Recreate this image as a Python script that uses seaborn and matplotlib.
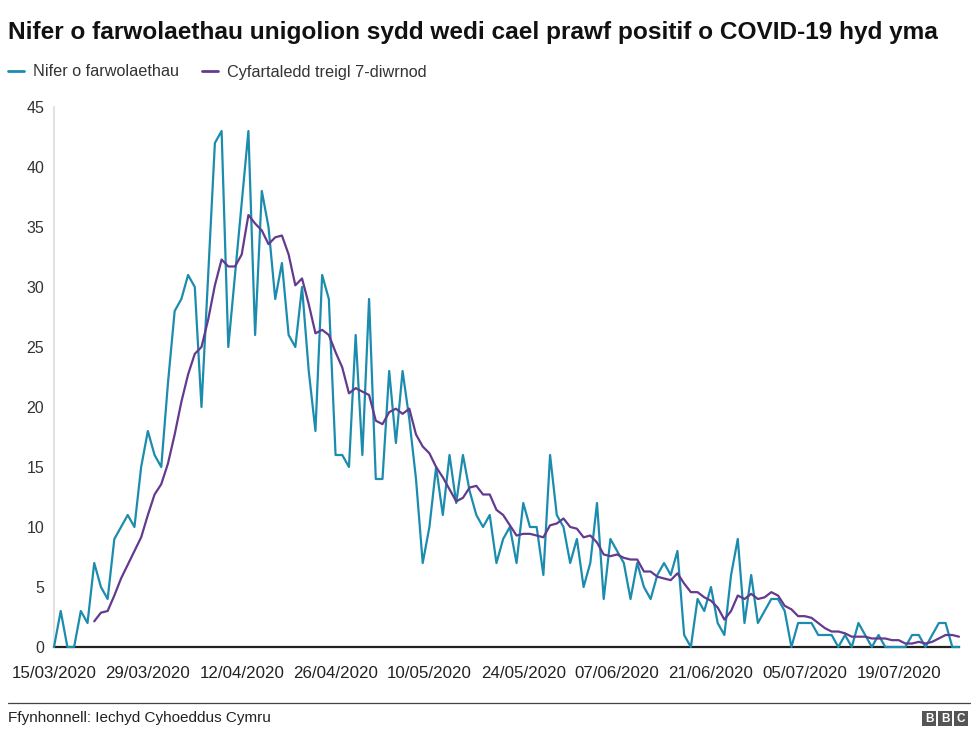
import numpy as np
import pandas as pd
import seaborn as sns
import matplotlib.pyplot as plt
from matplotlib.lines import Line2D
from matplotlib.patches import Rectangle

# Daily deaths, 15/03/2020 onwards
deaths = [0, 3, 0, 0, 3, 2, 7, 5, 4, 9, 10, 11, 10, 15, 18, 16, 15, 22, 28, 29,
          31, 30, 20, 31, 42, 43, 25, 31, 37, 43, 26, 38, 35, 29, 32, 26, 25, 30, 23, 18,
          31, 29, 16, 16, 15, 26, 16, 29, 14, 14, 23, 17, 23, 19, 14, 7, 10, 15, 11, 16,
          12, 16, 13, 11, 10, 11, 7, 9, 10, 7, 12, 10, 10, 6, 16, 11, 10, 7, 9, 5,
          7, 12, 4, 9, 8, 7, 4, 7, 5, 4, 6, 7, 6, 8, 1, 0, 4, 3, 5, 2,
          1, 6, 9, 2, 6, 2, 3, 4, 4, 3, 0, 2, 2, 2, 1, 1, 1, 0, 1, 0,
          2, 1, 0, 1, 0, 0, 0, 0, 1, 1, 0, 1, 2, 2, 0, 0]

# 7-day rolling average, starts on the 7th day (21/03/2020)
rolling_avg = [2.14, 2.86, 3.00, 4.29, 5.71, 6.86, 8.00, 9.14, 11.00, 12.71,
               13.57, 15.29, 17.71, 20.43, 22.71, 24.43, 25.00, 27.29, 30.14, 32.29,
               31.71, 31.71, 32.71, 36.00, 35.29, 34.71, 33.57, 34.14, 34.29, 32.71,
               30.14, 30.71, 28.57, 26.14, 26.43, 26.00, 24.57, 23.29, 21.14, 21.57,
               21.29, 21.00, 18.86, 18.57, 19.57, 19.86, 19.43, 19.86, 17.71, 16.71,
               16.14, 15.00, 14.14, 13.14, 12.14, 12.43, 13.29, 13.43, 12.71, 12.71,
               11.43, 11.00, 10.14, 9.29, 9.43, 9.43, 9.29, 9.14, 10.14, 10.29,
               10.71, 10.00, 9.86, 9.14, 9.29, 8.71, 7.71, 7.57, 7.71, 7.43,
               7.29, 7.29, 6.29, 6.29, 5.86, 5.71, 5.57, 6.14, 5.29, 4.57,
               4.57, 4.14, 3.86, 3.29, 2.29, 3.00, 4.29, 4.00, 4.43, 4.00,
               4.14, 4.57, 4.29, 3.43, 3.14, 2.57, 2.57, 2.43, 2.00, 1.57,
               1.29, 1.29, 1.14, 0.86, 0.86, 0.86, 0.71, 0.71, 0.71, 0.57,
               0.57, 0.29, 0.29, 0.43, 0.29, 0.43, 0.71, 1.00, 1.00, 0.86]

tick_labels = ["15/03/2020", "29/03/2020", "12/04/2020", "26/04/2020", "10/05/2020",
               "24/05/2020", "07/06/2020", "21/06/2020", "05/07/2020", "19/07/2020"]

title = "Nifer o farwolaethau unigolion sydd wedi cael prawf positif o COVID-19 hyd yma"
label_daily = "Nifer o farwolaethau"
label_avg = "Cyfartaledd treigl 7-diwrnod"
source = "Ffynhonnell: Iechyd Cyhoeddus Cymru"

TEAL = "#1b8cae"
PURPLE = "#633a8e"

dates = pd.date_range("2020-03-15", periods=len(deaths), freq="D")
daily = pd.DataFrame({"date": dates, "value": deaths})
avg = pd.DataFrame({"date": dates[len(deaths) - len(rolling_avg):], "value": rolling_avg})

sns.set_style("white")
plt.rcParams["font.family"] = ["Liberation Sans", "DejaVu Sans"]

W, H = 976, 749
fig = plt.figure(figsize=(W / 100, H / 100), dpi=100)
ax = fig.add_axes([54 / W, 1 - 647 / H, (959 - 54) / W, (647 - 107) / H])

sns.lineplot(data=daily, x="date", y="value", ax=ax, color=TEAL, linewidth=1.6,
             clip_on=False, zorder=3)
sns.lineplot(data=avg, x="date", y="value", ax=ax, color=PURPLE, linewidth=1.6,
             clip_on=False, zorder=4)

ax.set_xlim(dates[0], dates[-1])
ax.set_ylim(0, 45)
ax.set_yticks(np.arange(0, 50, 5))
ax.set_xticks(pd.to_datetime(tick_labels, dayfirst=True))
ax.set_xticklabels(tick_labels)
ax.set_xlabel("")
ax.set_ylabel("")
ax.tick_params(axis="y", length=0, pad=7, labelsize=11.5, labelcolor="#333333")
ax.tick_params(axis="x", length=0, pad=14, labelsize=12.2, labelcolor="#222222")

for side in ["top", "right"]:
    ax.spines[side].set_visible(False)
ax.spines["left"].set_color("#dcdcdc")
ax.spines["left"].set_linewidth(1.2)
ax.spines["bottom"].set_color("#222222")
ax.spines["bottom"].set_linewidth(1.6)
ax.spines["bottom"].set_zorder(2)

# title and legend
fig.text(8 / W, 1 - 32 / H, title, fontsize=17.6, fontweight="bold", va="center", ha="left",
         color="#111111")
handles = [Line2D([], [], color=TEAL, lw=2), Line2D([], [], color=PURPLE, lw=2)]
fig.legend(handles, [label_daily, label_avg], loc="center left",
           bbox_to_anchor=(0.0, 1 - 72 / H), ncol=2, frameon=False, fontsize=11.7,
           handlelength=1.0, handletextpad=0.55, columnspacing=1.4, labelcolor="#333333",
           borderaxespad=0.1)

# footer
fig.add_artist(Line2D([8 / W, 970 / W], [1 - 703 / H] * 2, color="#444444", lw=0.9))
fig.text(8 / W, 1 - 718 / H, source, fontsize=11, va="center", ha="left", color="#222222")
for i, letter in enumerate("BBC"):
    x0 = 922 + i * 16
    fig.add_artist(Rectangle((x0 / W, 1 - 726 / H), 14 / W, 15 / H,
                             transform=fig.transFigure, color="#555555", lw=0))
    fig.text((x0 + 7) / W, 1 - 718.5 / H, letter, fontsize=8.5, fontweight="bold",
             color="white", ha="center", va="center")

fig.savefig("out.png", dpi=100)
